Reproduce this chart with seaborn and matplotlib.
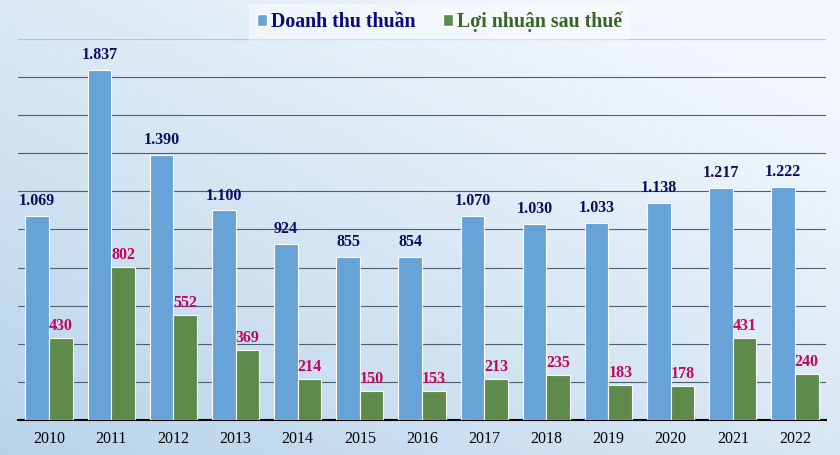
import numpy as np
import pandas as pd
import matplotlib.pyplot as plt
import seaborn as sns
from matplotlib.patches import Patch

years = ["2010", "2011", "2012", "2013", "2014", "2015", "2016",
         "2017", "2018", "2019", "2020", "2021", "2022"]
revenue = [1069, 1837, 1390, 1100, 924, 855, 854, 1070, 1030, 1033, 1138, 1217, 1222]
profit = [430, 802, 552, 369, 214, 150, 153, 213, 235, 183, 178, 431, 240]
series_names = ["Doanh thu thuần", "Lợi nhuận sau thuế"]

blue = "#68a3d8"
green = "#5e8b4b"
navy = "#0c0c5e"
crimson = "#c0085e"
dark_green = "#3a6426"

df = pd.DataFrame({
    "year": years * 2,
    "value": revenue + profit,
    "series": [series_names[0]] * len(years) + [series_names[1]] * len(years),
})

sns.set_style("white")
plt.rcParams["font.family"] = ["Liberation Serif", "DejaVu Serif"]

fig = plt.figure(figsize=(8.4, 4.55), dpi=100)

# gradient background
bg = fig.add_axes([0, 0, 1, 1], zorder=-10)
gx, gy = np.meshgrid(np.linspace(0, 1, 200), np.linspace(0, 1, 200))
t = np.clip(0.55 * gx + 0.6 * gy, 0, 1)
c0 = np.array([0.72, 0.83, 0.92])
c1 = np.array([0.95, 0.97, 0.99])
img = c0[None, None, :] * (1 - t[..., None]) + c1[None, None, :] * t[..., None]
bg.imshow(img, origin="lower", aspect="auto", extent=[0, 1, 0, 1])
bg.axis("off")

ax = fig.add_axes([18 / 840, 35 / 455, 808 / 840, 381 / 455])
ax.patch.set_alpha(0)
sns.barplot(data=df, x="year", y="value", hue="series",
            palette=[blue, green], saturation=1, width=0.76, gap=0.0,
            edgecolor="white", linewidth=0.8, ax=ax, legend=False, zorder=3)

ax.set_ylim(0, 2000)
ax.set_xlim(-0.5, 12.5)
ax.set_yticks(range(200, 1801, 200))
ax.set_yticklabels([])
ax.tick_params(axis="y", length=0)
ax.tick_params(axis="x", length=0, labelsize=11.5, pad=8, labelcolor="black")
ax.grid(axis="y", color="#4f5f6f", linewidth=0.8, zorder=0)
ax.axhline(2000, color="#b8c4d0", linewidth=0.9, zorder=0)
ax.set_axisbelow(True)
for s in ["top", "right", "left"]:
    ax.spines[s].set_visible(False)
ax.spines["bottom"].set_color("black")
ax.spines["bottom"].set_linewidth(1.5)
ax.set_xlabel("")
ax.set_ylabel("")


def fmt(v):
    return f"{v:,}".replace(",", ".")


ax.bar_label(ax.containers[0], labels=[fmt(v) for v in revenue], padding=5,
             fontsize=11.5, fontweight="bold", color=navy)
ax.bar_label(ax.containers[1], labels=[fmt(v) for v in profit], padding=3,
             fontsize=11.5, fontweight="bold", color=crimson)

handles = [Patch(facecolor=blue, edgecolor="white"),
           Patch(facecolor=green, edgecolor="white")]
leg = fig.legend(handles, series_names, loc="upper center", ncol=2,
                 bbox_to_anchor=(0.523, 1.005), frameon=True, fancybox=False,
                 handlelength=0.5, handleheight=0.5, handletextpad=0.2,
                 columnspacing=1.4, borderpad=0.4, borderaxespad=0.3,
                 prop={"size": 14.3, "weight": "bold"})
leg.get_frame().set_facecolor("white")
leg.get_frame().set_alpha(0.45)
leg.get_frame().set_edgecolor("none")
leg.get_texts()[0].set_color("#0a0a80")
leg.get_texts()[1].set_color(dark_green)

fig.savefig("out.png", dpi=100)
